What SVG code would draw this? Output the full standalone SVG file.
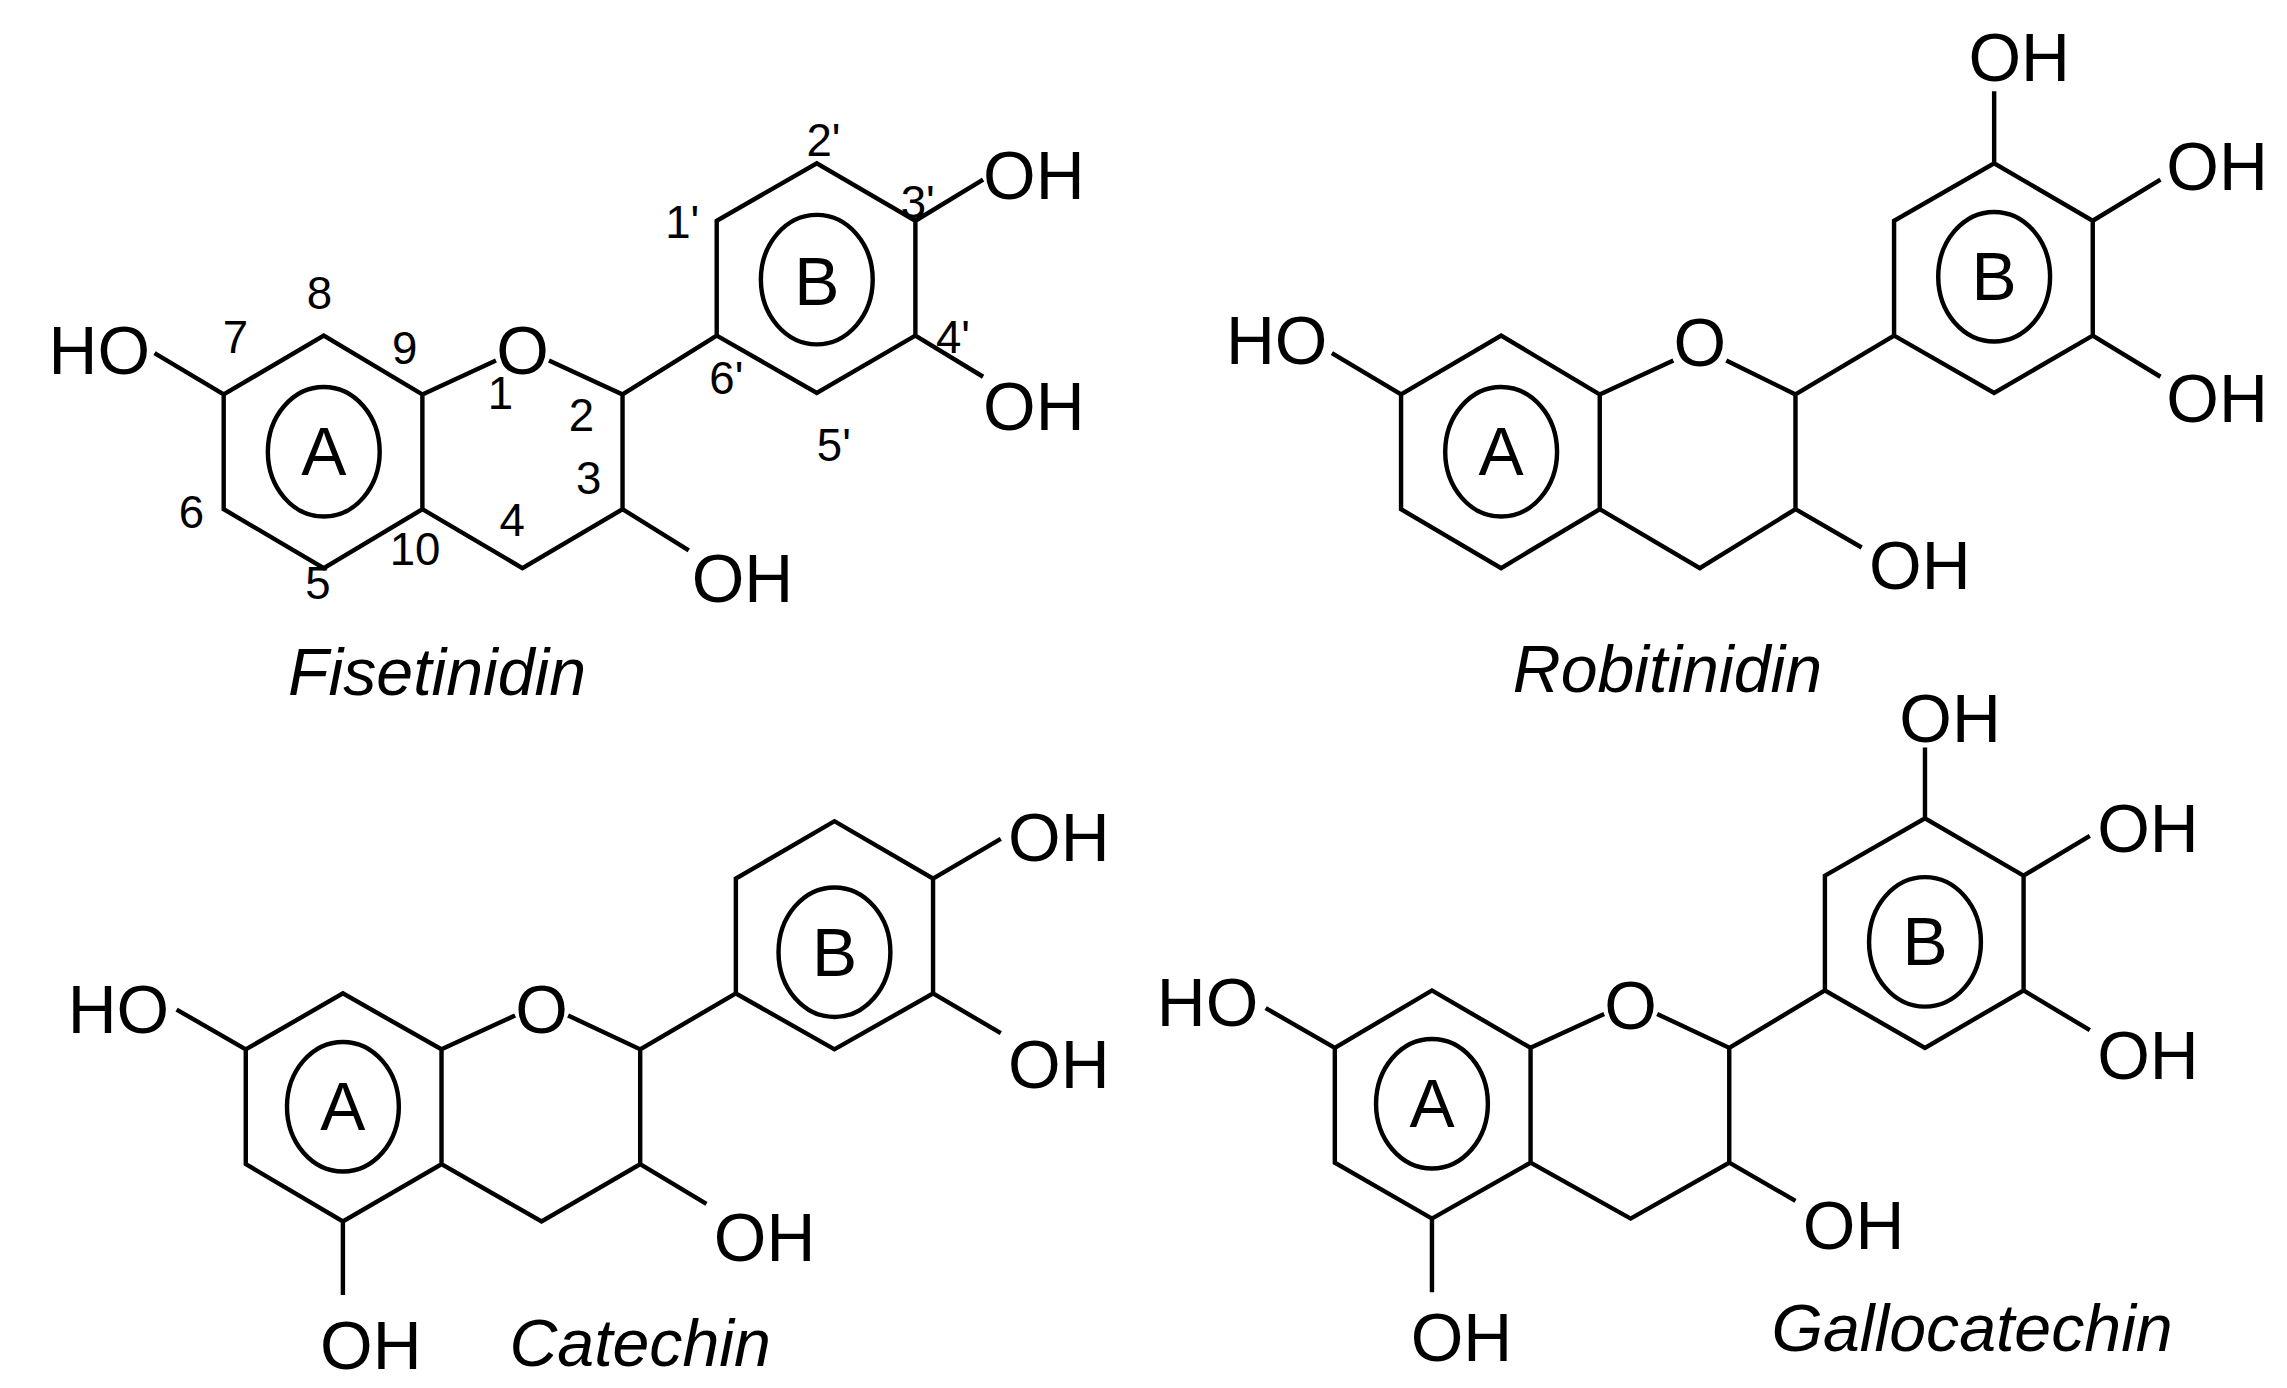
<svg xmlns="http://www.w3.org/2000/svg" width="2287" height="1388" viewBox="0 0 2287 1388">
<style>
.b{fill:none;stroke:#000;stroke-width:3;stroke-linejoin:miter}
.t{font-family:"Liberation Sans",Arial,sans-serif;font-size:46px;fill:#000}
.n{font-family:"Liberation Sans",Arial,sans-serif;font-size:31px;fill:#000}
.m{text-anchor:middle}
.i{font-family:"Liberation Sans",Arial,sans-serif;font-size:45px;font-style:italic;fill:#000;text-anchor:middle}
</style>
<rect width="2287" height="1388" fill="#fff"/>
<g transform="scale(1.4717)">
<g id="connectors">
<path class="b" d="M152,268 L220,228 L287,268 L287,346 L220,386 L152,346 Z M152,268 L105,240 M287,268 L337,245 M373,245 L423,268 L423,346 L355,386 L287,346 M423,346 L468,374 M423,268 L487,228 M487,228 L487,150 L555,111 L622,150 L622,228 L555,267 Z M622,150 L668,122 M622,228 L668,256"/>
<path class="b" d="M952,268 L1020,228 L1087,268 L1087,346 L1020,386 L952,346 Z M952,268 L905,240 M1087,268 L1137,245 M1173,245 L1220,268 L1220,346 L1155,386 L1087,346 M1220,346 L1265,372 M1220,268 L1287,228 M1287,228 L1287,150 L1355,111 L1422,150 L1422,228 L1355,267 Z M1355,111 L1355,62 M1422,150 L1468,122 M1422,228 L1468,256"/>
<path class="b" d="M167,713 L233,675 L300,713 L300,791 L233,830 L167,791 Z M167,713 L120,686 M233,830 L233,880 M300,713 L350,690 M386,690 L435,713 L435,791 L368,830 L300,791 M435,791 L480,818 M435,713 L500,675 M500,675 L500,597 L567,558 L634,597 L634,675 L567,713 Z M634,597 L680,570 M634,675 L680,702"/>
<path class="b" d="M907,712 L973,673 L1040,712 L1040,790 L973,828 L907,790 Z M907,712 L860,685 M973,828 L973,878 M1040,712 L1090,689 M1126,689 L1175,712 L1175,790 L1108,828 L1040,790 M1175,790 L1220,816 M1175,712 L1240,673 M1240,673 L1240,595 L1308,556 L1375,595 L1375,673 L1308,712 Z M1308,556 L1308,508 M1375,595 L1420,568 M1375,673 L1420,700"/>
</g>
<g id="fisetinidin">
<ellipse class="b" cx="220" cy="307" rx="38" ry="44"/>
<ellipse class="b" cx="555" cy="190" rx="38" ry="44"/>
<text class="t" x="33" y="254">HO</text>
<text class="t m" x="355" y="254">O</text>
<text class="t" x="470" y="409">OH</text>
<text class="t" x="668" y="135">OH</text>
<text class="t" x="668" y="292">OH</text>
<text class="t m" x="220" y="323">A</text>
<text class="t m" x="555" y="207">B</text>
<text class="n m" x="217" y="210">8</text>
<text class="n m" x="160" y="240">7</text>
<text class="n m" x="275" y="247">9</text>
<text class="n m" x="340" y="278">1</text>
<text class="n m" x="395" y="293">2</text>
<text class="n m" x="400" y="336">3</text>
<text class="n m" x="348" y="364">4</text>
<text class="n m" x="282" y="384">10</text>
<text class="n m" x="130" y="359">6</text>
<text class="n m" x="216" y="407">5</text>
<text class="n" x="482" y="268">6'</text>
<text class="n" x="555" y="313">5'</text>
<text class="n" x="452" y="162">1'</text>
<text class="n" x="548" y="106">2'</text>
<text class="n" x="612" y="148">3'</text>
<text class="n" x="636" y="240">4'</text>
<text class="i" x="297" y="472">Fisetinidin</text>
</g>
<g id="robitinidin">
<ellipse class="b" cx="1020" cy="307" rx="38" ry="44"/>
<ellipse class="b" cx="1355" cy="188" rx="38" ry="44"/>
<text class="t" x="833" y="247">HO</text>
<text class="t m" x="1155" y="249">O</text>
<text class="t" x="1270" y="400">OH</text>
<text class="t m" x="1372" y="55">OH</text>
<text class="t" x="1472" y="129">OH</text>
<text class="t" x="1472" y="287">OH</text>
<text class="t m" x="1020" y="323">A</text>
<text class="t m" x="1355" y="204">B</text>
<text class="i" x="1133" y="470">Robitinidin</text>
</g>
<g id="catechin">
<ellipse class="b" cx="233" cy="752" rx="38" ry="44"/>
<ellipse class="b" cx="567" cy="647" rx="38" ry="44"/>
<text class="t" x="46" y="702">HO</text>
<text class="t m" x="368" y="702">O</text>
<text class="t m" x="252" y="930">OH</text>
<text class="t" x="485" y="857">OH</text>
<text class="t" x="685" y="585">OH</text>
<text class="t" x="685" y="739">OH</text>
<text class="t m" x="233" y="768">A</text>
<text class="t m" x="567" y="663">B</text>
<text class="i" x="435" y="928">Catechin</text>
</g>
<g id="gallocatechin">
<ellipse class="b" cx="973" cy="750" rx="38" ry="44"/>
<ellipse class="b" cx="1308" cy="640" rx="38" ry="44"/>
<text class="t" x="786" y="697">HO</text>
<text class="t m" x="1108" y="699">O</text>
<text class="t m" x="993" y="925">OH</text>
<text class="t" x="1225" y="849">OH</text>
<text class="t m" x="1325" y="504">OH</text>
<text class="t" x="1425" y="579">OH</text>
<text class="t" x="1425" y="733">OH</text>
<text class="t m" x="973" y="766">A</text>
<text class="t m" x="1308" y="656">B</text>
<text class="i" x="1340" y="918">Gallocatechin</text>
</g>
</g>
</svg>
